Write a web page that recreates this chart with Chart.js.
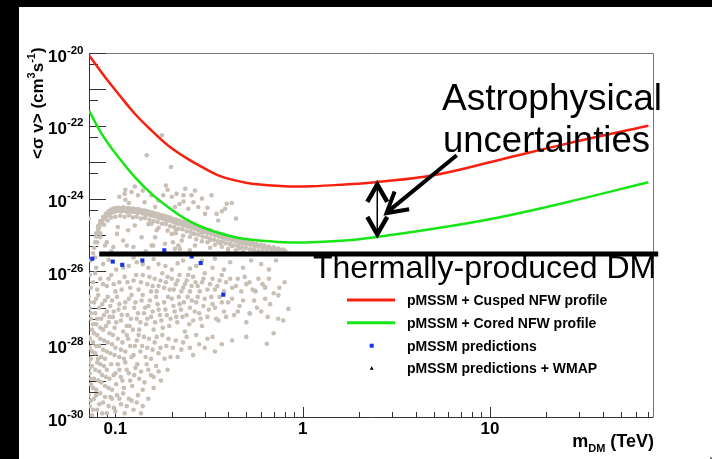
<!DOCTYPE html>
<html>
<head>
<meta charset="utf-8">
<script src="https://cdn.jsdelivr.net/npm/chart.js@4.4.0/dist/chart.umd.min.js"></script>
<style>
  html, body { margin: 0; padding: 0; background: #fff; overflow: hidden; }
</style>
</head>
<body>
<canvas id="relic" width="712" height="459"></canvas>
<script>
// Axis ranges and labels
const massMin = 0.0723, massMax = 74.1;
const sigmaMin = 1e-30, sigmaMax = 1e-20;
const xTickValues = [0.1, 1, 10];
const xTickLabels = ['0.1', '1', '10'];
const yLabelExps = [-20, -22, -24, -26, -28, -30];

// pMSSM + Cusped NFW profile
const cuspedMass = [0.0723, 0.088, 0.1036, 0.127, 0.156, 0.191, 0.235, 0.289, 0.354, 0.435, 0.535, 0.804, 1.117, 1.68, 2.43, 4.98, 11.3, 25.7, 70];
const cuspedSigma = [8.7e-21, 2.19e-21, 7.6e-22, 2.14e-22, 7.4e-23, 2.88e-23, 1.38e-23, 7.4e-24, 4.37e-24, 3.16e-24, 2.57e-24, 2.19e-24, 2.19e-24, 2.45e-24, 2.82e-24, 4.37e-24, 1.17e-23, 3.24e-23, 1.0e-22];

// pMSSM + Cored NFW profile
const coredMass = [0.0723, 0.0845, 0.1036, 0.127, 0.156, 0.191, 0.235, 0.289, 0.354, 0.435, 0.535, 0.804, 1.117, 1.68, 2.43, 4.98, 11.3, 25.7, 70];
const coredSigma = [2.63e-22, 6.03e-23, 1.38e-23, 3.89e-24, 1.35e-24, 5.89e-25, 2.82e-25, 1.66e-25, 1.15e-25, 8.71e-26, 7.41e-26, 6.31e-26, 6.31e-26, 7.08e-26, 8.71e-26, 1.48e-25, 3.09e-25, 7.94e-25, 2.82e-24];

// pMSSM predictions (blue squares)
const pmssmMass = [0.0753, 0.0968, 0.1088, 0.1393, 0.1824, 0.2553, 0.2853, 0.3767];
const pmssmLog = [-25.65, -25.73, -25.82, -25.70, -25.42, -25.59, -25.77, -26.64];

// thermal relic cross section
const relicMass = [0.082, 79];
const relicSigma = [3.0e-26, 3.0e-26];

// grey scan points: [mass TeV, log10 <sigma v>]
const scanBand = [[0.076,-25.5],[0.077,-25.35],[0.078,-25.2],[0.079,-25.05],[0.08,-24.95],[0.081,-24.85],[0.082,-24.78],[0.083,-24.7],[0.085,-24.62],[0.087,-24.55],[0.089,-24.5],[0.091,-24.45],[0.093,-24.42],[0.096,-24.38],[0.099,-24.36],[0.102,-24.34],[0.105,-24.33],[0.108,-24.35],[0.111,-24.33],[0.115,-24.36],[0.119,-24.34],[0.123,-24.37],[0.127,-24.36],[0.131,-24.39],[0.135,-24.38],[0.14,-24.41],[0.145,-24.42],[0.15,-24.44],[0.155,-24.46],[0.16,-24.48],[0.166,-24.5],[0.172,-24.53],[0.178,-24.55],[0.185,-24.58],[0.192,-24.6],[0.2,-24.63],[0.208,-24.66],[0.216,-24.69],[0.225,-24.71],[0.234,-24.74],[0.244,-24.77],[0.254,-24.8],[0.265,-24.83],[0.276,-24.86],[0.288,-24.89],[0.3,-24.92],[0.313,-24.95],[0.326,-24.98],[0.34,-25.01],[0.355,-25.04],[0.37,-25.07],[0.386,-25.1],[0.403,-25.12],[0.42,-25.15],[0.44,-25.18],[0.46,-25.21],[0.48,-25.23],[0.5,-25.25],[0.525,-25.27],[0.55,-25.3],[0.58,-25.32],[0.61,-25.35],[0.64,-25.37],[0.68,-25.4],[0.72,-25.42],[0.76,-25.45],[0.81,-25.47],[0.86,-25.5],
  [0.079,-24.95],[0.081,-24.75],[0.083,-24.62],[0.086,-24.5],[0.089,-24.42],[0.092,-24.35],[0.095,-24.3],[0.098,-24.27],[0.101,-24.26],[0.104,-24.25],[0.107,-24.27],[0.11,-24.24],[0.113,-24.27],[0.117,-24.26],[0.121,-24.28],[0.125,-24.27],[0.129,-24.3],[0.133,-24.29],[0.138,-24.32],[0.143,-24.33],[0.148,-24.35],[0.153,-24.37],[0.158,-24.38],[0.164,-24.41],[0.17,-24.43],[0.176,-24.46],[0.182,-24.47],[0.189,-24.5],[0.196,-24.52],[0.204,-24.56],[0.212,-24.58],[0.22,-24.6],[0.229,-24.63],[0.239,-24.66],[0.249,-24.7],[0.26,-24.72],[0.27,-24.76],[0.282,-24.79],[0.294,-24.82],[0.307,-24.85],[0.32,-24.87],[0.333,-24.91],[0.347,-24.93],[0.362,-24.97],[0.378,-24.99],[0.395,-25.03],[0.412,-25.05],[0.43,-25.09],[0.45,-25.11],[0.47,-25.14],[0.49,-25.16],[0.512,-25.19],[0.537,-25.21],[0.565,-25.24],[0.595,-25.27],[0.625,-25.29],[0.66,-25.32],[0.7,-25.34],[0.74,-25.37],[0.785,-25.4],
  [0.08,-25.2],[0.083,-24.95],[0.087,-24.72],[0.091,-24.6],[0.095,-24.52],[0.1,-24.5],[0.106,-24.47],[0.112,-24.5],[0.118,-24.46],[0.124,-24.52],[0.13,-24.5],[0.137,-24.55],[0.144,-24.53],[0.152,-24.58],[0.16,-24.62],[0.168,-24.64],[0.177,-24.69],[0.186,-24.7],[0.196,-24.76],[0.206,-24.78],[0.217,-24.83],[0.228,-24.84],[0.24,-24.9],[0.252,-24.92],[0.265,-24.97],[0.278,-24.99],[0.292,-25.04],[0.306,-25.06],[0.32,-25.1],[0.336,-25.13],[0.352,-25.17],[0.37,-25.19],[0.388,-25.23],[0.408,-25.25],[0.428,-25.29],[0.45,-25.3],[0.473,-25.34],[0.497,-25.36],[0.523,-25.39],[0.55,-25.41],[0.58,-25.44],[0.61,-25.45],[0.645,-25.47],[0.68,-25.49],
  [0.15,-24.7],[0.17,-24.8],[0.19,-24.88],[0.21,-24.95],[0.23,-25.02],[0.25,-25.05],[0.27,-25.12],[0.29,-25.17],[0.31,-25.2],[0.34,-25.27],[0.37,-25.32],[0.4,-25.38],[0.44,-25.42],[0.48,-25.47],[0.21,-24.86],[0.26,-24.96],[0.32,-25.14],[0.36,-25.22],[0.42,-25.3],[0.46,-25.36],
  [0.084,-24.66],[0.088,-24.52],[0.094,-24.4],[0.097,-24.33],[0.1,-24.3],[0.103,-24.3],[0.109,-24.29],[0.114,-24.31],[0.12,-24.3],[0.126,-24.32],[0.132,-24.34],[0.139,-24.36],[0.146,-24.38],[0.152,-24.4],[0.159,-24.43],[0.167,-24.46],[0.175,-24.5],[0.183,-24.52],[0.191,-24.55],[0.2,-24.58],[0.21,-24.62],[0.22,-24.65],[0.231,-24.68],[0.242,-24.72],[0.253,-24.75],[0.266,-24.78],[0.279,-24.82],[0.292,-24.85],[0.305,-24.89],[0.318,-24.92],[0.332,-24.95],[0.348,-24.98],[0.364,-25.02],[0.38,-25.05],[0.398,-25.07],[0.416,-25.1],[0.435,-25.13],[0.455,-25.16],[0.475,-25.18],[0.497,-25.21],[0.52,-25.23],[0.545,-25.26],[0.57,-25.28],[0.6,-25.3],[0.63,-25.33],[0.67,-25.36],[0.71,-25.38],[0.75,-25.41],[0.8,-25.43]];

const scanAbove = [[0.177,-22.26],[0.147,-22.81],[0.198,-23.13],[0.127,-23.67],[0.113,-23.76],[0.122,-23.82],[0.112,-23.87],[0.132,-23.91],[0.113,-24.03],[0.186,-23.64],[0.19,-23.76],[0.18,-23.91],[0.212,-23.87],[0.236,-23.73],[0.231,-23.91],[0.266,-23.78],[0.255,-23.91],[0.231,-24.08],[0.261,-24.1],[0.277,-24.23],[0.245,-24.28],[0.326,-23.91],[0.393,-24.14],[0.418,-24.12],[0.385,-24.28],[0.301,-24.42],[0.156,-23.91],[0.143,-24.1],[0.163,-24.23],[0.208,-24.23],[0.354,-24.6],[0.347,-24.42],
  [0.105,-23.95],[0.118,-24.12],[0.14,-23.78],[0.17,-24.05],[0.2,-23.95],[0.22,-24.15],[0.29,-24.0],[0.31,-24.25],[0.44,-24.55],[0.37,-24.35]];

const scanGap = [[0.103,-24.78],[0.102,-24.97],[0.117,-24.87],[0.127,-24.74],[0.156,-24.69],[0.166,-24.87],[0.138,-25.06],[0.163,-25.06],[0.2,-24.97],[0.156,-25.29],[0.184,-25.24],[0.226,-25.15],[0.266,-25.29],[0.083,-25.06],[0.081,-24.78],[0.088,-25.29],[0.115,-25.29],[0.217,-25.29],[0.289,-24.92],[0.208,-25.38],[0.072,-24.55],[0.0975,-25.33],[0.11,-25.15],[0.1248,-25.33],[0.159,-25.29],[0.203,-25.2],[0.221,-25.38],[0.09,-25.2],[0.25,-25.42],[0.32,-25.35],[0.4,-25.45],[0.145,-25.45],[0.095,-25.45]];

const scanBelow = [[0.074,-25.7],[0.079,-25.9],[0.086,-25.8],[0.101,-25.95],[0.118,-25.85],[0.13,-25.75],[0.15,-25.9],[0.17,-25.8],[0.2,-25.95],[0.23,-25.7],[0.27,-25.85],[0.33,-25.9],[0.41,-25.75],[0.48,-25.9],[0.6,-25.8],[0.72,-25.7],[0.34,-25.65],
  [0.078,-25.62],[0.092,-25.68],[0.11,-25.9],[0.125,-25.62],[0.14,-25.8],[0.16,-25.66],[0.185,-25.85],[0.215,-25.78],[0.25,-25.92],[0.29,-25.7],[0.38,-25.95],[0.53,-25.7],[0.66,-25.95],
  [0.073,-26.1],[0.076,-26.3],[0.08,-26.5],[0.083,-26.2],[0.09,-26.4],[0.095,-26.1],[0.1,-26.55],[0.105,-26.3],[0.112,-26.15],[0.12,-26.45],[0.125,-26.25],[0.133,-26.5],[0.14,-26.1],[0.148,-26.35],[0.155,-26.55],[0.162,-26.2],[0.17,-26.4],[0.178,-26.05],[0.186,-26.3],[0.195,-26.5],[0.2,-26.2],[0.21,-26.35],[0.22,-26.1],[0.23,-26.45],[0.24,-26.25],[0.25,-26.55],[0.26,-26.15],[0.275,-26.4],[0.29,-26.3],[0.3,-26.05],[0.31,-26.5],[0.33,-26.2],[0.35,-26.4],[0.37,-26.1],[0.39,-26.3],[0.42,-26.45],[0.45,-26.2],[0.47,-26.55],[0.5,-26.35],[0.54,-26.5],[0.58,-26.2],[0.63,-26.45],[0.7,-26.6],[0.8,-26.3],
  [0.074,-26.45],[0.078,-26.05],[0.086,-26.35],[0.092,-26.2],[0.098,-26.35],[0.108,-26.5],[0.116,-26.3],[0.129,-26.1],[0.137,-26.3],[0.152,-26.15],[0.158,-26.4],[0.166,-26.55],[0.174,-26.25],[0.182,-26.45],[0.19,-26.15],[0.205,-26.5],[0.215,-26.25],[0.225,-26.55],[0.235,-26.35],[0.245,-26.1],[0.255,-26.4],[0.268,-26.3],[0.282,-26.55],[0.295,-26.2],[0.32,-26.35],[0.34,-26.5],[0.36,-26.25],[0.38,-26.55],[0.41,-26.2],[0.44,-26.4],[0.49,-26.15],[0.52,-26.3],[0.56,-26.55],[0.61,-26.35],[0.66,-26.2],[0.75,-26.45],
  [0.072,-26.7],[0.073,-27.0],[0.074,-27.3],[0.075,-27.6],[0.077,-26.85],[0.078,-27.15],[0.079,-27.45],[0.081,-26.65],[0.082,-27.0],[0.084,-27.3],[0.086,-27.6],[0.088,-26.8],[0.09,-27.1],[0.092,-27.4],[0.094,-26.95],[0.097,-27.25],[0.099,-27.55],[0.102,-26.7],[0.104,-27.05],[0.107,-27.35],[0.11,-27.65],[0.113,-26.85],[0.116,-27.2],[0.119,-27.5],[0.122,-26.65],[0.126,-27.0],[0.13,-27.3],[0.134,-27.6],[0.138,-26.8],[0.142,-27.15],[0.146,-27.45],[0.15,-26.95],[0.155,-27.25],[0.16,-27.6],[0.165,-26.7],[0.17,-27.05],[0.176,-27.35],[0.182,-26.85],[0.188,-27.2],[0.194,-27.5],[0.2,-26.75],[0.207,-27.1],[0.214,-27.4],[0.22,-26.9],[0.228,-27.25],[0.235,-27.65],[0.243,-26.7],[0.25,-27.0],[0.26,-27.35],[0.27,-26.85],[0.28,-27.15],[0.29,-27.5],[0.3,-26.75],[0.315,-27.05],[0.33,-26.9],[0.345,-27.3],[0.36,-26.7],[0.38,-27.1],[0.4,-26.85],[0.43,-27.2],[0.46,-26.95],[0.5,-27.4],[0.55,-26.8],[0.6,-27.1],[0.67,-26.9],[0.74,-27.3],[0.7,-27.7],
  [0.073,-26.85],[0.074,-27.15],[0.076,-27.45],[0.079,-26.75],[0.08,-27.3],[0.083,-27.55],[0.085,-26.9],[0.087,-27.2],[0.089,-27.5],[0.091,-26.7],[0.093,-27.25],[0.096,-26.8],[0.098,-27.1],[0.101,-27.4],[0.105,-26.9],[0.108,-27.2],[0.112,-27.0],[0.115,-27.5],[0.118,-26.75],[0.121,-27.3],[0.124,-27.6],[0.128,-26.85],[0.132,-27.15],[0.136,-27.4],[0.14,-26.65],[0.144,-27.0],[0.148,-27.3],[0.153,-26.8],[0.158,-27.1],[0.163,-27.4],[0.168,-26.9],[0.173,-27.2],[0.179,-27.55],[0.185,-27.05],[0.191,-26.7],[0.197,-27.3],[0.204,-26.95],[0.211,-27.25],[0.218,-26.7],[0.224,-27.05],[0.232,-26.85],[0.24,-27.2],[0.248,-27.45],[0.256,-26.8],[0.265,-27.1],[0.275,-26.7],[0.285,-27.3],[0.295,-26.95],[0.31,-27.25],[0.325,-26.7],[0.34,-27.0],[0.355,-27.35],[0.37,-26.85],[0.39,-27.25],[0.42,-26.75],[0.45,-27.1],[0.48,-26.8],[0.52,-27.15],[0.57,-27.0],[0.63,-26.75],[0.65,-27.25],
  [0.557,-26.53],[0.629,-26.43],[0.741,-26.66],[0.838,-27.03],[0.788,-27.35],[0.643,-27.99],[0.523,-27.16],
  [0.072,-27.8],[0.073,-28.1],[0.074,-28.4],[0.076,-27.95],[0.078,-28.25],[0.08,-27.75],[0.082,-28.05],[0.084,-28.35],[0.087,-27.9],[0.09,-28.2],[0.093,-27.7],[0.096,-28.0],[0.099,-28.3],[0.103,-27.85],[0.107,-28.15],[0.111,-28.4],[0.115,-27.75],[0.12,-28.05],[0.125,-28.3],[0.13,-27.9],[0.136,-28.2],[0.142,-27.8],[0.148,-28.1],[0.155,-28.4],[0.162,-27.95],[0.17,-28.25],[0.178,-27.75],[0.187,-28.05],[0.197,-28.35],[0.21,-27.9],[0.225,-28.15],[0.24,-27.8],[0.26,-28.3],[0.28,-28.0],[0.31,-27.85],[0.34,-28.2],[0.37,-28.0],[0.42,-27.9],[0.5,-27.8],
  [0.073,-27.85],[0.075,-28.2],[0.077,-27.7],[0.079,-28.05],[0.081,-28.4],[0.083,-27.85],[0.086,-28.15],[0.088,-28.4],[0.091,-27.95],[0.094,-28.25],[0.097,-27.75],[0.1,-28.1],[0.105,-28.35],[0.109,-27.95],[0.113,-28.2],[0.117,-27.85],[0.122,-28.35],[0.127,-28.05],[0.133,-27.75],[0.139,-28.05],[0.145,-28.35],[0.151,-27.85],[0.158,-28.15],[0.166,-27.8],[0.174,-28.1],[0.183,-28.4],[0.192,-27.85],[0.203,-28.1],[0.215,-28.35],[0.23,-27.95],[0.25,-28.1],[0.27,-27.75],[0.3,-28.1],[0.33,-27.8],
  [0.072,-28.5],[0.073,-28.8],[0.074,-29.1],[0.075,-28.6],[0.077,-28.95],[0.079,-29.25],[0.08,-28.5],[0.082,-28.75],[0.084,-29.05],[0.087,-28.6],[0.089,-28.9],[0.092,-29.2],[0.095,-28.55],[0.098,-28.85],[0.101,-29.1],[0.105,-28.7],[0.109,-29.0],[0.113,-28.5],[0.118,-28.8],[0.123,-29.15],[0.128,-28.65],[0.134,-28.95],[0.14,-29.25],[0.147,-28.55],[0.155,-28.85],[0.165,-28.6],[0.175,-29.0],[0.19,-28.7],
  [0.073,-28.65],[0.074,-28.95],[0.076,-29.2],[0.078,-28.7],[0.081,-29.0],[0.083,-28.55],[0.085,-28.85],[0.088,-29.15],[0.09,-28.7],[0.093,-28.95],[0.096,-29.25],[0.1,-28.8],[0.103,-28.55],[0.107,-28.9],[0.111,-29.2],[0.115,-28.7],[0.12,-29.0],[0.126,-28.85],[0.131,-28.55],[0.137,-28.75],[0.143,-29.05],[0.15,-28.7],[0.16,-28.9],[0.17,-28.75],[0.16,-29.2],
  [0.072,-29.4],[0.073,-29.7],[0.075,-29.95],[0.077,-29.5],[0.08,-29.8],[0.083,-29.35],[0.086,-29.6],[0.09,-29.9],[0.094,-29.45],[0.098,-29.75],[0.102,-29.4],[0.107,-29.65],[0.112,-29.9],[0.118,-29.5],[0.125,-29.8],[0.132,-29.4],[0.14,-29.7],[0.15,-29.5],
  [0.074,-29.55],[0.076,-29.8],[0.079,-29.4],[0.082,-29.65],[0.085,-29.9],[0.088,-29.45],[0.092,-29.7],[0.096,-29.5],[0.1,-29.85],[0.105,-29.5],[0.11,-29.35],[0.115,-29.7],[0.122,-29.55],[0.13,-29.6],[0.137,-29.9]];

const FONT = "'Liberation Sans', Arial, Helvetica, sans-serif";

function toPoints(list) {
    return list.map(p => ({ x: p[0], y: Math.pow(10, p[1]) }));
}
function zipPoints(xs, ys) {
    return xs.map((x, i) => ({ x: x, y: ys[i] }));
}

function drawChevron(ctx, tipX, tipY, dirX, dirY, len, spread) {
    // dir points from the tip back along the shaft
    const a = Math.atan2(dirY, dirX);
    ctx.beginPath();
    ctx.moveTo(tipX + len * Math.cos(a - spread), tipY + len * Math.sin(a - spread));
    ctx.lineTo(tipX, tipY);
    ctx.lineTo(tipX + len * Math.cos(a + spread), tipY + len * Math.sin(a + spread));
    ctx.stroke();
}

const rootStyle = {
    id: 'rootStyle',
    beforeDraw(chart) {
        const ctx = chart.ctx;
        const w = ctx.canvas.width, h = ctx.canvas.height;
        ctx.save();
        ctx.fillStyle = '#fff';
        ctx.fillRect(0, 0, w, h);
        ctx.fillStyle = '#000';
        ctx.fillRect(0, 0, w, 7);
        ctx.fillRect(0, 0, 19, h);
        ctx.restore();
    },
    beforeDatasetsDraw(chart) {
        const { ctx, chartArea: a, scales: { x, y } } = chart;
        ctx.save();
        ctx.lineWidth = 1;
        // top and right frame
        ctx.strokeStyle = '#777';
        ctx.beginPath();
        ctx.moveTo(a.left, a.top + 0.5);
        ctx.lineTo(a.right + 0.5, a.top + 0.5);
        ctx.lineTo(a.right + 0.5, a.bottom);
        ctx.stroke();
        // left and bottom axes with inside ticks
        ctx.strokeStyle = '#333';
        ctx.beginPath();
        ctx.moveTo(a.left + 0.5, a.top);
        ctx.lineTo(a.left + 0.5, a.bottom + 0.5);
        ctx.lineTo(a.right + 0.5, a.bottom + 0.5);
        for (let n = -30; n <= -20; n++) {
            const py = Math.round(y.getPixelForValue(Math.pow(10, n))) + 0.5;
            ctx.moveTo(a.left, py); ctx.lineTo(a.left + 17, py);
            if (n < -20) {
                const pm = Math.round(y.getPixelForValue(5 * Math.pow(10, n))) + 0.5;
                ctx.moveTo(a.left, pm); ctx.lineTo(a.left + 9, pm);
            }
        }
        for (let n = -2; n <= 1; n++) {
            for (let k = 1; k <= 9; k++) {
                const v = k * Math.pow(10, n);
                if (v < massMin || v > massMax) continue;
                const px = Math.round(x.getPixelForValue(v)) + 0.5;
                ctx.moveTo(px, a.bottom);
                ctx.lineTo(px, a.bottom - (k === 1 ? 10 : 5));
            }
        }
        ctx.stroke();

        // tick labels
        ctx.fillStyle = '#000';
        ctx.textBaseline = 'alphabetic';
        ctx.textAlign = 'left';
        yLabelExps.forEach(e => {
            const py = y.getPixelForValue(Math.pow(10, e));
            ctx.font = 'bold 11.5px ' + FONT;
            const expText = String(e);
            const we = ctx.measureText(expText).width;
            ctx.fillText(expText, 83.5 - we, py + 0.5);
            ctx.font = 'bold 17px ' + FONT;
            const wb = ctx.measureText('10').width;
            ctx.fillText('10', 83.5 - we - wb, py + 8.5);
        });
        ctx.font = 'bold 17px ' + FONT;
        ctx.textAlign = 'center';
        xTickValues.forEach((v, i) => {
            ctx.fillText(xTickLabels[i], x.getPixelForValue(v), 434);
        });

        // x title m_DM (TeV), right aligned
        ctx.textAlign = 'left';
        ctx.font = 'bold 18px ' + FONT;
        const wm = ctx.measureText('m').width;
        const wt = ctx.measureText(' (TeV)').width;
        ctx.font = 'bold 11px ' + FONT;
        const wd = ctx.measureText('DM').width;
        const tx = 654 - wm - wd - wt;
        ctx.font = 'bold 18px ' + FONT;
        ctx.fillText('m', tx, 446.5);
        ctx.font = 'bold 11px ' + FONT;
        ctx.fillText('DM', tx + wm, 451.5);
        ctx.font = 'bold 18px ' + FONT;
        ctx.fillText(' (TeV)', tx + wm + wd, 446.5);
        ctx.restore();

        // y title, rotated
        ctx.save();
        ctx.fillStyle = '#000';
        ctx.textAlign = 'left';
        ctx.textBaseline = 'alphabetic';
        ctx.translate(43, 159);
        ctx.rotate(-Math.PI / 2);
        let cx = 0;
        const seg = (t, size, dy) => {
            ctx.font = 'bold ' + size + 'px ' + FONT;
            ctx.fillText(t, cx, dy);
            cx += ctx.measureText(t).width;
        };
        seg('<σ v> (cm', 17, 0);
        seg('3', 11, -8);
        seg('s', 17, 0);
        seg('-1', 11, -8);
        seg(')', 17, 0);
        ctx.restore();
    },
    afterDraw(chart) {
        const { ctx, scales: { x, y } } = chart;
        const sets = chart.data.datasets;
        ctx.save();

        // legend
        const rowY = [300, 322.7, 345.7, 368.3];
        ctx.textBaseline = 'middle';
        ctx.textAlign = 'left';
        ctx.font = 'bold 14px ' + FONT;
        sets.filter(d => d.label).forEach((d, i) => {
            const ry = rowY[i];
            if (d.showLine) {
                ctx.strokeStyle = d.borderColor;
                ctx.lineWidth = 3;
                ctx.beginPath();
                ctx.moveTo(347, ry); ctx.lineTo(395, ry);
                ctx.stroke();
            } else if (d.pointStyle === 'rect') {
                ctx.fillStyle = d.backgroundColor;
                ctx.fillRect(369.7, ry - 2, 4, 4);
            } else {
                ctx.fillStyle = d.backgroundColor;
                ctx.beginPath();
                ctx.moveTo(371.7, ry - 2); ctx.lineTo(373.7, ry + 1.5); ctx.lineTo(369.7, ry + 1.5);
                ctx.closePath();
                ctx.fill();
            }
            ctx.fillStyle = '#000';
            ctx.fillText(d.label, 407, ry + 1);
        });

        // annotations
        ctx.fillStyle = '#000';
        ctx.textBaseline = 'alphabetic';
        ctx.font = '37px ' + FONT;
        ctx.fillText('Astrophysical', 442, 110);
        ctx.font = '36.5px ' + FONT;
        ctx.fillText('uncertainties', 443, 152);
        ctx.font = '32px ' + FONT;
        ctx.fillText('Thermally-produced DM', 313, 277.5);

        // double arrow between the two profiles
        const ax = x.getPixelForValue(2.5);
        const aTop = y.getPixelForValue(2.6e-24);
        const aBot = y.getPixelForValue(9.8e-26);
        ctx.strokeStyle = '#000';
        ctx.lineWidth = 1.5;
        ctx.beginPath();
        ctx.moveTo(ax, aTop); ctx.lineTo(ax, aBot);
        ctx.stroke();
        ctx.lineWidth = 4.5;
        drawChevron(ctx, ax, aTop + 1, 0, 1, 20, 0.52);
        drawChevron(ctx, ax, aBot - 1, 0, -1, 20, 0.52);

        // pointer arrow from the text
        const p0x = x.getPixelForValue(6.64), p0y = y.getPixelForValue(1.55e-23);
        const p1x = x.getPixelForValue(2.8), p1y = y.getPixelForValue(4.0e-25);
        ctx.lineWidth = 4;
        ctx.beginPath();
        ctx.moveTo(p0x, p0y); ctx.lineTo(p1x + 2, p1y - 2);
        ctx.stroke();
        drawChevron(ctx, p1x, p1y, p0x - p1x, p0y - p1y, 23, 0.52);

        // small corner mark so the white margin at right and bottom is kept in the picture
        const cw = ctx.canvas.width, ch = ctx.canvas.height;
        ctx.fillStyle = '#808080';
        ctx.fillRect(cw - 2, ch - 2, 2, 2);
        ctx.restore();
    }
};

const data = {
    datasets: [
        {
            label: 'pMSSM + Cusped NFW profile',
            data: zipPoints(cuspedMass, cuspedSigma),
            showLine: true, borderColor: '#f8200e', borderWidth: 2.5,
            pointRadius: 0, tension: 0.4, order: 2
        },
        {
            label: 'pMSSM + Cored NFW profile',
            data: zipPoints(coredMass, coredSigma),
            showLine: true, borderColor: '#16e616', borderWidth: 2.5,
            pointRadius: 0, tension: 0.4, order: 3
        },
        {
            label: 'pMSSM predictions',
            data: toPoints(pmssmMass.map((m, i) => [m, pmssmLog[i]])),
            pointStyle: 'rect', pointRadius: 2.9, borderWidth: 0,
            backgroundColor: '#1432e8', order: 4
        },
        {
            label: 'pMSSM predictions + WMAP',
            data: [],
            pointStyle: 'triangle', pointRadius: 2, borderWidth: 0,
            backgroundColor: '#000', order: 0
        },
        {
            data: toPoints(scanBand.concat(scanAbove, scanGap, scanBelow)),
            pointRadius: 2.3, borderWidth: 0,
            backgroundColor: '#c8bfb6', order: 6
        },
        {
            data: zipPoints(relicMass, relicSigma),
            showLine: true, borderColor: '#000', borderWidth: 5,
            pointRadius: 0, clip: false, order: 1
        }
    ]
};

const options = {
    responsive: false,
    animation: false,
    devicePixelRatio: 1,
    layout: { padding: { left: 89, top: 53, right: 59, bottom: 42 } },
    scales: {
        x: { type: 'logarithmic', min: massMin, max: massMax, display: false, bounds: 'data' },
        y: { type: 'logarithmic', min: sigmaMin, max: sigmaMax, display: false, bounds: 'data' }
    },
    plugins: {
        legend: { display: false },
        tooltip: { enabled: false }
    }
};

new Chart(document.getElementById('relic'), {
    type: 'scatter', data, options, plugins: [rootStyle]
});
</script>
</body>
</html>
